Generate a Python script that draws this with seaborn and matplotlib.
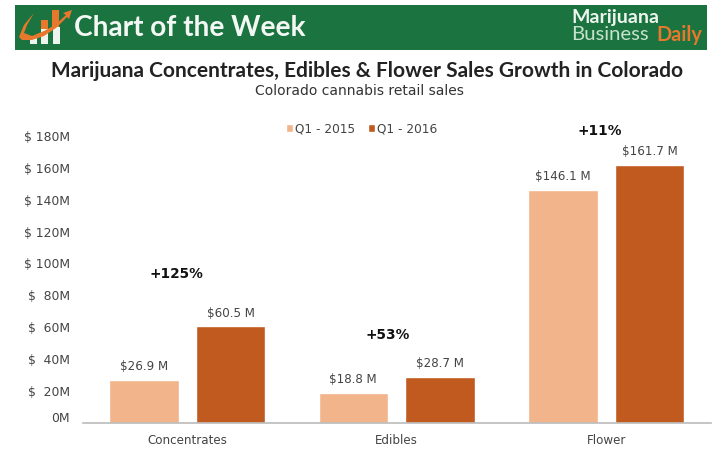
#!/usr/bin/env python3

import matplotlib
matplotlib.use('Agg')
import pandas as pd
import matplotlib.pyplot as plt
from matplotlib.patches import Rectangle, Polygon
from matplotlib.transforms import ScaledTranslation
import seaborn as sns

categories = ['Concentrates', 'Edibles', 'Flower']
periods = ['Q1 - 2015', 'Q1 - 2016']
sales_2015 = [26.9, 18.8, 146.1]
sales_2016 = [60.5, 28.7, 161.7]
labels_2015 = ['$26.9 M', '$18.8 M', '$146.1 M']
labels_2016 = ['$60.5 M', '$28.7 M', '$161.7 M']
growth = ['+125%', '+53%', '+11%']
growth_x = [-0.05, 0.955, 1.97]
growth_y = [93.5, 55, 183]
y_ticks = [0, 20, 40, 60, 80, 100, 120, 140, 160, 180]
y_labels = ['0M', '$  20M', '$  40M', '$  60M', '$  80M', '$ 100M', '$ 120M', '$ 140M', '$ 160M', '$ 180M']

W, H = 720, 465
GREEN = '#1b7340'
ORANGE = '#e8782c'
TEXT = '#444444'


def px(x, y):
    # pixel position in the reference -> figure fraction
    return x / W, 1 - y / H


df = pd.DataFrame({
    'category': categories * 2,
    'period': [periods[0]] * 3 + [periods[1]] * 3,
    'sales': sales_2015 + sales_2016,
})

sns.set_theme(style='white')
plt.rcParams['font.family'] = ['DejaVu Sans']

fig = plt.figure(figsize=(7.2, 4.65), dpi=100)

# green header with the logo
fig.add_artist(Rectangle(px(15, 50), 692 / W, 45 / H, transform=fig.transFigure, color=GREEN, lw=0))
for x, y0, y1, col in [(30, 37, 44, '#eef5ee'), (41, 29, 44, '#eef5ee'), (53, 27, 44, '#eef5ee'),
                       (41, 20, 29, ORANGE), (52, 10, 27, ORANGE)]:
    fig.add_artist(Rectangle(px(x, y1), 7 / W, (y1 - y0) / H, transform=fig.transFigure, color=col, lw=0))
fig.add_artist(Polygon([px(*p) for p in [(19, 37), (24, 25), (34, 13), (27, 25), (24, 33), (32, 36), (44, 31), (55, 25),
                                         (66, 15), (63, 13), (72, 10), (69, 19), (67, 17), (56, 28), (44, 36), (32, 40), (22, 40)]],
                       transform=fig.transFigure, color=ORANGE, lw=0))
fig.text(*px(74, 28), 'Chart of the Week', family='Lato', weight='bold', fontsize=20.2, color='#f4f8f4', va='center', ha='left')
fig.text(*px(571, 17), 'Marijuana', family='Lato', weight='bold', fontsize=14, color='#eef5ee', va='center', ha='left')
fig.text(*px(571, 35), 'Business', family='Lato', fontsize=14.6, color='#c5e2cc', va='center', ha='left')
fig.text(*px(656, 35), 'Daily', family='Lato', weight='bold', fontsize=14.3, color=ORANGE, va='center', ha='left')

fig.text(*px(367, 71), 'Marijuana Concentrates, Edibles & Flower Sales Growth in Colorado',
         family='Lato', weight='bold', fontsize=15, color='#222222', va='center', ha='center')
fig.text(*px(359, 91), 'Colorado cannabis retail sales', fontsize=10, color='#333333', va='center', ha='center')

# bars
left, right, top, bottom = 82.5, 711, 125, 423
ax = fig.add_axes([left / W, 1 - bottom / H, (right - left) / W, (bottom - top) / H])
sns.barplot(data=df, x='category', y='sales', hue='period', hue_order=periods,
            palette=['#f2b48a', '#c05a1f'], width=0.83, gap=0.2, saturation=1,
            ax=ax, legend=True)
ax.set_xlim(-0.5, 2.5)
ax.set_ylim(0, 186.8)
ax.set_xlabel('')
ax.set_ylabel('')

ax.set_yticks(y_ticks)
ax.set_yticklabels(y_labels, fontsize=8.9, color=TEXT)
ax.tick_params(axis='y', length=0, pad=9)
ax.tick_params(axis='x', length=0, pad=8, labelsize=8.6, labelcolor=TEXT)

# the 0M label sits a little above the baseline
zero = ax.get_yticklabels()[0]
zero.set_transform(zero.get_transform() + ScaledTranslation(0, 6 / 100, fig.dpi_scale_trans))

sns.despine(ax=ax, left=True)
ax.spines['bottom'].set_color('#bbbbbb')
ax.spines['bottom'].set_linewidth(1.2)

for cont, labels in zip(ax.containers, [labels_2015, labels_2016]):
    ax.bar_label(cont, labels=labels, padding=5, fontsize=8.6, color=TEXT)

for x, y, txt in zip(growth_x, growth_y, growth):
    ax.text(x, y, txt, fontsize=9.8, weight='bold', color='#111111', ha='center', va='center')

ax.legend(loc='center', bbox_to_anchor=(0.444, 0.987), ncol=2, frameon=False, fontsize=8.7,
          handlelength=0.6, handleheight=0.6, handletextpad=0.15, columnspacing=1.05, labelcolor=TEXT)

plt.savefig('out.png', dpi=100)
plt.close()
